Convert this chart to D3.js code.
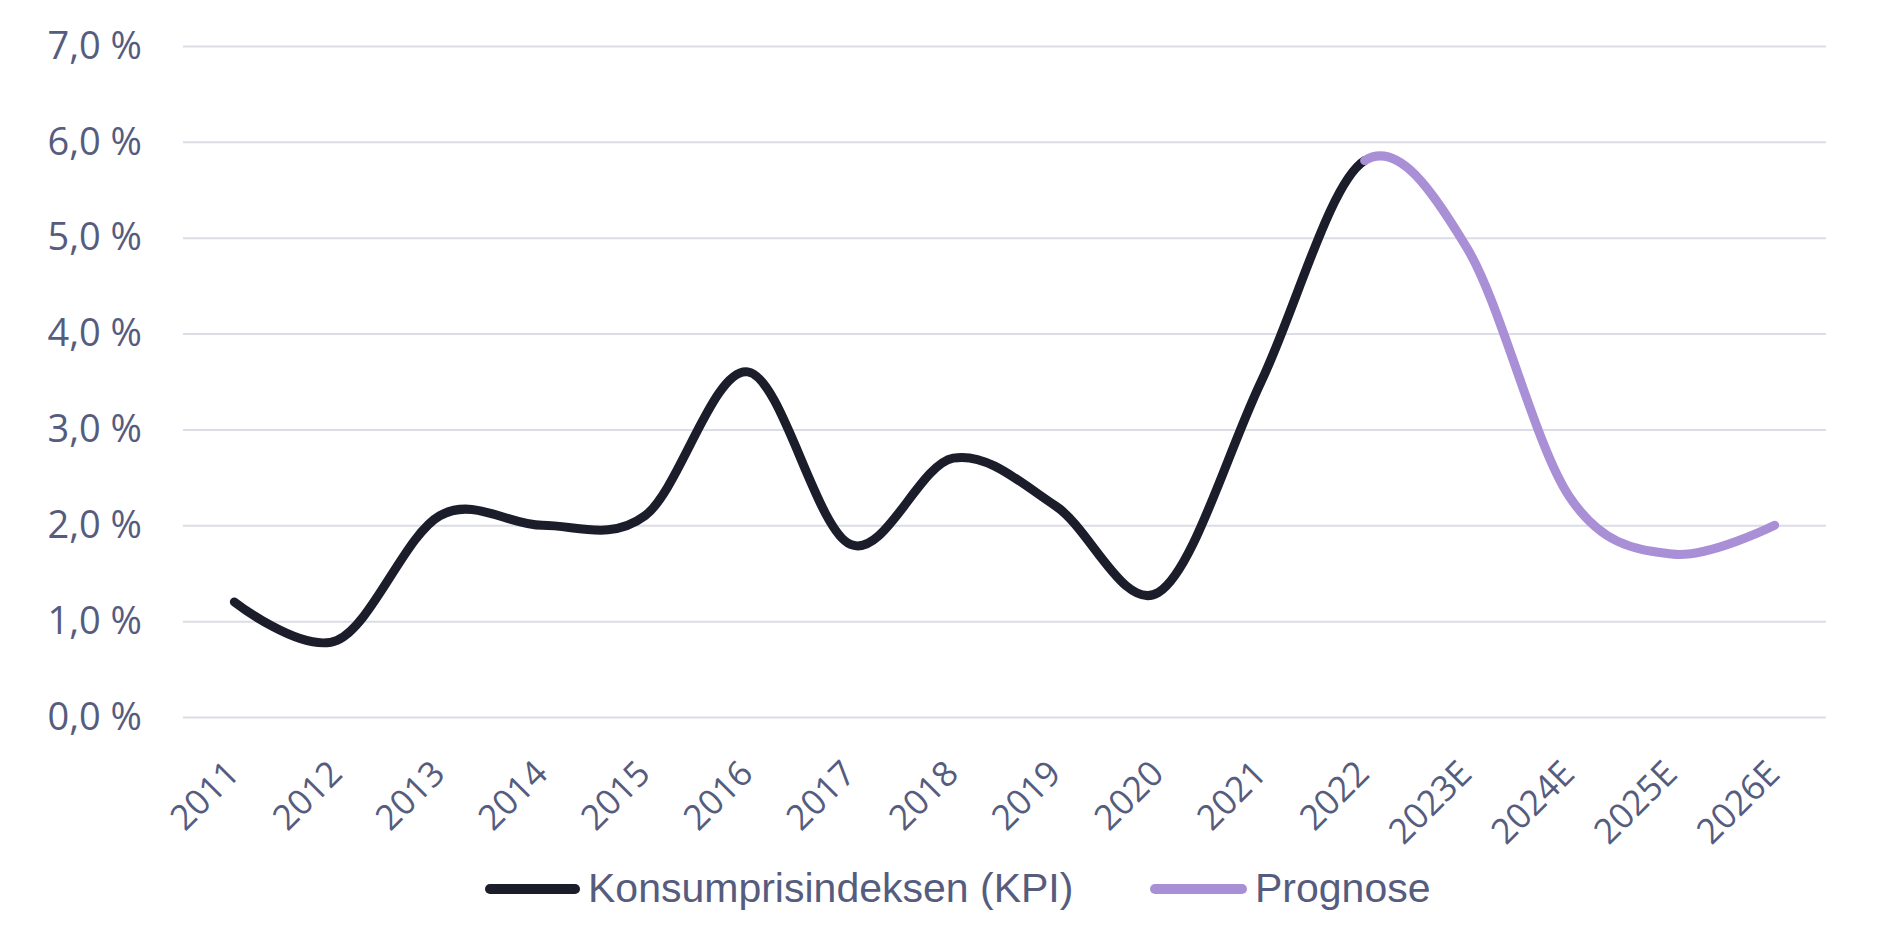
<!DOCTYPE html>
<html>
<head>
<meta charset="utf-8">
<script src="https://cdn.jsdelivr.net/npm/d3@7"></script>
<style>
  html, body { margin: 0; padding: 0; background: #ffffff; }
  svg { display: block; }
</style>
</head>
<body>
<svg id="chart" width="1877" height="931"></svg>
<script>
// ---- data ----
const categories = ["2011","2012","2013","2014","2015","2016","2017","2018","2019","2020","2021","2022","2023E","2024E","2025E","2026E"];
const kpiValues = [1.2, 0.8, 2.1, 2.0, 2.1, 3.6, 1.8, 2.7, 2.2, 1.3, 3.5, 5.8, null, null, null, null];
const prognoseValues = [null, null, null, null, null, null, null, null, null, null, null, 5.8, 4.9, 2.3, 1.7, 2.0];
const splitCategory = "2022";
const yTicks = [0, 1, 2, 3, 4, 5, 6, 7];
const seriesNames = ["Konsumprisindeksen (KPI)", "Prognose"];

(function () {
// ---- layout ----
const pLeft = 183, pRight = 1826, pTop = 46, pBottom = 717;
const colKPI = "#1c1d2b", colProg = "#a98fd6", colText = "#555c7e", colGrid = "#dcdce6";

const svg = d3.select("#chart");
const x = d3.scalePoint().domain(categories).range([pLeft, pRight]).padding(0.5);
const y = d3.scaleLinear().domain([0, 7]).range([pBottom, pTop]);

const loc = d3.formatLocale({decimal: ",", thousands: " ", grouping: [3], currency: ["", " kr"]});
const fmt = loc.format(".1f");

// gridlines + y labels via axis
const yAxis = d3.axisLeft(y).tickValues(yTicks).tickSize(-(pRight - pLeft)).tickPadding(41)
  .tickFormat(d => fmt(d) + " %");
const gy = svg.append("g").attr("transform", `translate(${pLeft},0)`).call(yAxis);
gy.select(".domain").remove();
gy.selectAll(".tick line").attr("stroke", colGrid).attr("stroke-width", 2);
gy.selectAll(".tick text")
  .attr("fill", colText)
  .style("font-family", "'Open Sans', sans-serif")
  .style("font-size", "38px");

// x labels via axis
const xAxis = d3.axisBottom(x).tickSize(0).tickPadding(0);
const gx = svg.append("g").attr("transform", `translate(0,${pBottom})`).call(xAxis);
gx.select(".domain").remove();
gx.selectAll(".tick text")
  .attr("fill", colText)
  .style("font-family", "'Open Sans', sans-serif")
  .style("font-size", "35px")
  .attr("text-anchor", "end")
  .attr("dy", "0.35em")
  .attr("y", 0)
  .attr("transform", "translate(-2,50) rotate(-45)");

// one smoothed curve through history + forecast, coloured in two parts
const combined = categories.map((c, i) => ({c, v: kpiValues[i] !== null ? kpiValues[i] : prognoseValues[i]}));
const line = d3.line()
  .defined(d => d.v !== null)
  .x(d => x(d.c))
  .y(d => y(d.v))
  .curve(d3.curveCardinal.tension(0));

const kpiPath = svg.append("path").datum(combined)
  .attr("d", line)
  .attr("fill", "none")
  .attr("stroke", colKPI)
  .attr("stroke-width", 9)
  .attr("stroke-linecap", "round")
  .attr("stroke-linejoin", "round");

const progPath = svg.append("path").datum(combined)
  .attr("d", line)
  .attr("fill", "none")
  .attr("stroke", colProg)
  .attr("stroke-width", 9)
  .attr("stroke-linecap", "round")
  .attr("stroke-linejoin", "round");

function lengthAtX(node, xs) {
  const total = node.getTotalLength();
  let lo = 0, hi = total;
  for (let k = 0; k < 40; k++) {
    const mid = (lo + hi) / 2;
    if (node.getPointAtLength(mid).x < xs) lo = mid; else hi = mid;
  }
  return {total, L: hi};
}
const xs = x(splitCategory);
// black: visible from start up to the split
{
  const {total, L} = lengthAtX(kpiPath.node(), xs);
  kpiPath.attr("stroke-dasharray", `${L} ${total * 2}`);
}
// purple: visible from the split to the end
{
  const {total, L} = lengthAtX(progPath.node(), xs);
  progPath.attr("stroke-dasharray", `${total} ${total}`).attr("stroke-dashoffset", 2 * total - L);
}

// legend
const legend = svg.append("g");
const legendItems = [
  {name: seriesNames[0], color: colKPI, x0: 490, x1: 575, tx: 588},
  {name: seriesNames[1], color: colProg, x0: 1155, x1: 1242, tx: 1255}
];
legendItems.forEach(it => {
  legend.append("line")
    .attr("x1", it.x0).attr("x2", it.x1).attr("y1", 889).attr("y2", 889)
    .attr("stroke", it.color).attr("stroke-width", 10).attr("stroke-linecap", "round");
  legend.append("text")
    .attr("x", it.tx).attr("y", 902)
    .attr("fill", colText)
    .style("font-family", "'Liberation Sans', Arial, sans-serif")
    .style("font-size", "41px")
    .text(it.name);
});
})();
</script>
</body>
</html>
